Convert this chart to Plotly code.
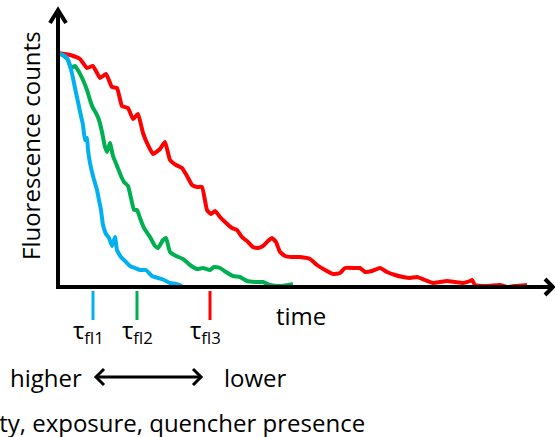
import plotly.graph_objects as go

# time (arbitrary units) and fluorescence counts (arbitrary units)
blue_t = [0, 5, 9, 12, 15, 17, 20, 23, 25, 27, 29, 30, 32, 35, 37, 39, 41, 43, 45, 48,
          51, 54, 57, 59, 63, 68, 72, 77, 82, 88, 94, 100, 106, 112, 118, 124]
blue_c = [236, 234, 231, 223, 211, 201, 187, 173, 164, 149, 151, 139, 126, 113, 106, 99, 89, 79, 64, 55,
          51, 43, 52, 39, 32, 27, 23, 21, 19, 19, 13, 11, 9, 6, 5, 3]

green_t = [0, 6, 10, 13, 17, 21, 25, 29, 32, 35, 38, 41, 44, 47, 49, 52, 55, 59, 63, 66,
           70, 73, 76, 79, 82, 86, 92, 97, 100, 105, 108, 112, 118, 125, 132, 139, 145, 152, 156, 162,
           168, 175, 182, 189, 197, 205, 212, 222, 230, 235]
green_c = [236, 233, 229, 221, 223, 217, 209, 199, 189, 181, 176, 169, 157, 142, 137, 146, 133, 123, 113, 107,
           103, 91, 79, 79, 71, 61, 52, 43, 41, 49, 51, 37, 33, 30, 24, 20, 21, 19, 22, 21,
           17, 13, 12, 8, 7, 7, 4, 3, 4, 5]

red_t = [0, 12, 22, 29, 35, 42, 48, 54, 59, 64, 70, 75, 80, 85, 89, 95, 102, 107, 112, 118,
         124, 129, 134, 139, 144, 149, 153, 157, 162, 167, 174, 179, 184, 190, 195, 200, 205, 210, 214, 218,
         222, 227, 234, 242, 252, 259, 267, 275, 282, 287, 297, 302, 307, 314, 322, 329, 337, 345, 352, 359,
         367, 375, 382, 389, 397, 405, 412, 414, 417, 429, 442, 449, 457, 469]
red_c = [236, 234, 230, 221, 223, 211, 215, 202, 201, 183, 181, 170, 175, 156, 146, 135, 140, 147, 129, 124,
         121, 113, 104, 102, 102, 79, 75, 78, 72, 67, 61, 59, 52, 47, 42, 41, 43, 48, 51, 47,
         37, 33, 32, 32, 30, 24, 19, 15, 16, 21, 21, 21, 17, 18, 21, 17, 14, 12, 11, 12,
         9, 6, 7, 8, 7, 6, 8, 9, 4, 3, 4, 2, 3, 4]

tau_pos = [35, 79, 152]
tau_labels = ["τ<sub>fl1</sub>", "τ<sub>fl2</sub>", "τ<sub>fl3</sub>"]
tau_label_x = [30, 79.5, 147]

BLUE = "#00B0F0"
GREEN = "#00B050"
RED = "#FF0000"
colors = [BLUE, GREEN, RED]
FONT = "Open Sans"

fig = go.Figure()
for t, c, col in [(red_t, red_c, RED), (green_t, green_c, GREEN), (blue_t, blue_c, BLUE)]:
    fig.add_trace(go.Scatter(x=t, y=c, mode="lines",
                             line=dict(color=col, width=4, shape="spline", smoothing=0.4),
                             hoverinfo="skip", showlegend=False))

shapes = []
blk = dict(color="black", width=4)
# axes
shapes.append(dict(type="line", x0=-2, y0=2, x1=495, y1=2, line=blk))
shapes.append(dict(type="line", x0=0, y0=0, x1=0, y1=279, line=blk))
shapes.append(dict(type="path", path="M -8,266 L 0,279 L 8,266", line=blk))
shapes.append(dict(type="path", path="M 487,10 L 495,2 L 487,-6", line=blk))
# tau ticks
for x, col in zip(tau_pos, colors):
    shapes.append(dict(type="line", x0=x, y0=-2, x1=x, y1=-31, line=dict(color=col, width=3)))
# double arrow
arr = dict(color="black", width=3)
shapes.append(dict(type="line", x0=38, y0=-88, x1=143, y1=-88, line=arr))
shapes.append(dict(type="path", path="M 46,-80 L 38,-88 L 46,-96", line=arr))
shapes.append(dict(type="path", path="M 135,-80 L 143,-88 L 135,-96", line=arr))

ann = []
def a(text, x, y, size, **kw):
    d = dict(text=text, x=x, y=y, xref="x", yref="y", showarrow=False,
             font=dict(family=FONT, size=size, color="black"))
    d.update(kw)
    ann.append(d)

a("Fluorescence counts", -28, 143, 24, textangle=-90)
a("time", 243, -26, 24)
for lab, x in zip(tau_labels, tau_label_x):
    a(lab, x, -42, 24)
a("higher", -12, -88, 24)
a("lower", 197, -88, 24)
a("Light intensity, exposure, quencher presence", 309, -133, 24, xanchor="right")

fig.update_layout(
    width=555, height=437, margin=dict(l=0, r=0, t=0, b=0),
    paper_bgcolor="white", plot_bgcolor="white",
    xaxis=dict(range=[-58, 497], visible=False, fixedrange=True),
    yaxis=dict(range=[-148, 289], visible=False, fixedrange=True),
    shapes=shapes, annotations=ann, showlegend=False,
)
fig.write_html("out.html")
